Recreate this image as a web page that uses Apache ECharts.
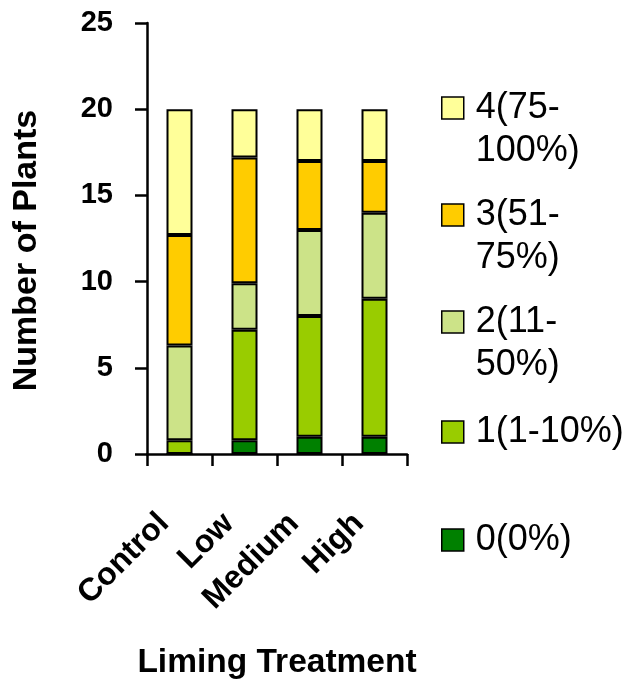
<!DOCTYPE html>
<html>
<head>
<meta charset="utf-8">
<script src="https://cdn.jsdelivr.net/npm/echarts@6/dist/echarts.min.js"></script>
<style>
html,body{margin:0;padding:0;background:#fff;}
#chart{width:641px;height:680px;}
</style>
</head>
<body>
<div id="chart"></div>
<script>
// ---- data ----
var categories = ['Control', 'Low', 'Medium', 'High'];
var seriesNames = ['0(0%)', '1(1-10%)', '2(11-50%)', '3(51-75%)', '4(75-100%)'];
var legendText = ['0(0%)', '1(1-10%)', '2(11-\n50%)', '3(51-\n75%)', '4(75-\n100%)'];
var score0 = [0, 0.8, 1, 1];
var score1 = [0.8, 6.4, 7, 8];
var score2 = [5.5, 2.7, 5, 5];
var score3 = [6.4, 7.3, 4, 3];
var score4 = [7.3, 2.8, 3, 3];
var yTicks = [0, 5, 10, 15, 20, 25];

var values = [score0, score1, score2, score3, score4];
var colors = ['#008000', '#99CC00', '#CCE388', '#FFCC00', '#FFFF99'];
var FONT = "'Liberation Sans', Arial, sans-serif";

var chart = echarts.init(document.getElementById('chart'), null, {renderer: 'canvas'});

var series = seriesNames.map(function (n, i) {
  return {
    name: n,
    type: 'bar',
    stack: 'total',
    barWidth: 26,
    data: values[i],
    itemStyle: {color: colors[i], borderColor: '#000', borderWidth: 2},
    emphasis: {disabled: true}
  };
});

// one legend per item so that positions match the reference
var legendCenters = [540, 432, 322, 215, 108];
var LH = 43;
var legends = seriesNames.map(function (n, i) {
  var txt = legendText[i];
  var multi = txt.indexOf('\n') >= 0;
  var top = multi ? legendCenters[i] - 1.5 * LH : legendCenters[i] - 0.5 * LH;
  return {
    data: [n],
    left: 441,
    top: top,
    padding: 0,
    orient: 'vertical',
    icon: 'rect',
    itemWidth: 22,
    itemHeight: 22,
    itemStyle: {borderColor: '#000', borderWidth: 1.5},
    selectedMode: false,
    formatter: function () { return multi ? ' \n' + txt : txt; },
    textStyle: {fontFamily: FONT, fontSize: 36, color: '#000', lineHeight: LH, padding: [0, 0, 0, 7]}
  };
});

chart.setOption({
  animation: false,
  backgroundColor: '#fff',
  grid: {left: 147, right: 234, top: 23, bottom: 226, containLabel: false, outerBoundsMode: 'none'},
  legend: legends,
  xAxis: {
    type: 'category',
    data: categories,
    name: 'Liming Treatment',
    nameLocation: 'middle',
    nameGap: 192,
    nameTextStyle: {fontFamily: FONT, fontSize: 33.5, fontWeight: 'bold', color: '#000'},
    axisLine: {lineStyle: {color: '#000', width: 2.5}},
    axisTick: {show: true, length: 12, lineStyle: {color: '#000', width: 2.5}},
    axisLabel: {rotate: 45, margin: 49, padding: [0, 22, 0, 0], fontFamily: FONT, fontSize: 32, fontWeight: 'bold', color: '#000'}
  },
  yAxis: {
    type: 'value',
    min: 0,
    max: 25,
    interval: 5,
    name: 'Number of Plants',
    nameLocation: 'middle',
    nameGap: 103,
    nameTextStyle: {fontFamily: FONT, fontSize: 34, fontWeight: 'bold', color: '#000', padding: [0, 24, 0, 0]},
    splitLine: {show: false},
    axisLine: {show: true, lineStyle: {color: '#000', width: 2.5}},
    axisTick: {show: true, length: 12, lineStyle: {color: '#000', width: 2.5}},
    axisLabel: {margin: 34, fontFamily: FONT, fontSize: 29, fontWeight: 'bold', color: '#000',
      formatter: function (v) { return yTicks.indexOf(v) >= 0 ? String(v) : ''; }}
  },
  series: series
});
</script>
</body>
</html>
